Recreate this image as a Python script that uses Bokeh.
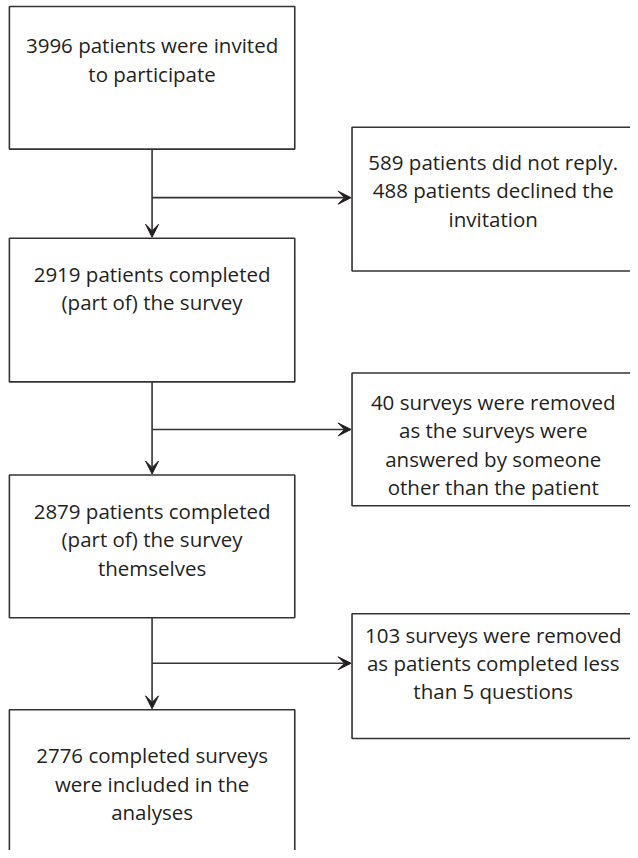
from bokeh.plotting import figure
from bokeh.models import Range1d, Arrow, VeeHead, ColumnDataSource
from bokeh.core.properties import value
from bokeh.embed import file_html
from bokeh.resources import INLINE

# ---- content ----
main_texts = [
    ["3996 patients were invited", "to participate"],
    ["2919 patients completed", "(part of) the survey"],
    ["2879 patients completed", "(part of) the survey", "themselves"],
    ["2776 completed surveys", "were included in the", "analyses"],
]
side_texts = [
    ["589 patients did not reply.", "488 patients declined the", "invitation"],
    ["40 surveys were removed", "as the surveys were", "answered by someone", "other than the patient"],
    ["103 surveys were removed", "as patients completed less", "than 5 questions"],
]

# ---- layout (pixel coordinates of the 638x858 picture) ----
main_left, main_right, main_cx = 9, 298, 153.5
main_tops = [6, 240, 479, 716]
main_bottoms = [150, 385, 623, 880]
main_text_y0 = [45, 276, 515, 762]

side_left, side_right, side_cx = 356, 670, 499
side_tops = [128, 376, 619]
side_bottoms = [273, 510, 745]
side_text_y0 = [163, 405, 640]

branch_y = [199, 433, 669]
line_gap = 28.7

INK = "#231f20"
LINE = "#333333"
FONT = "Open Sans"
FSIZE = "20.5px"

p = figure(width=630, height=850, output_backend="svg", toolbar_location=None,
           x_range=Range1d(0, 638), y_range=Range1d(858, 0), min_border=0)
p.axis.visible = False
p.grid.visible = False
p.outline_line_color = None
p.background_fill_color = "white"
p.border_fill_color = "white"

# boxes
p.quad(left=[main_left] * 4, right=[main_right] * 4, top=main_tops, bottom=main_bottoms,
       fill_color=None, line_color=LINE, line_width=1.6)
p.quad(left=[side_left] * 3, right=[side_right] * 3, top=side_tops, bottom=side_bottoms,
       fill_color=None, line_color=LINE, line_width=1.6)

# connectors
for i in range(3):
    p.add_layout(Arrow(x_start=main_cx, y_start=main_bottoms[i], x_end=main_cx, y_end=main_tops[i + 1] - 1,
                       line_color=LINE, line_width=1.6,
                       end=VeeHead(size=13, fill_color=INK, line_color=INK, line_width=1)))
    p.add_layout(Arrow(x_start=main_cx, y_start=branch_y[i], x_end=side_left - 1, y_end=branch_y[i],
                       line_color=LINE, line_width=1.6,
                       end=VeeHead(size=13, fill_color=INK, line_color=INK, line_width=1)))

# texts
xs, ys, ts = [], [], []
for lines, y0 in zip(main_texts, main_text_y0):
    for k, t in enumerate(lines):
        xs.append(main_cx); ys.append(y0 + k * line_gap); ts.append(t)
for lines, y0 in zip(side_texts, side_text_y0):
    for k, t in enumerate(lines):
        xs.append(side_cx); ys.append(y0 + k * line_gap); ts.append(t)

src = ColumnDataSource(dict(x=xs, y=ys, t=ts))
p.text(x="x", y="y", text="t", source=src, text_align="center", text_baseline="middle",
       text_font=value(FONT), text_font_size=FSIZE, text_color=INK)

open("out.html", "w").write(file_html(p, INLINE))
